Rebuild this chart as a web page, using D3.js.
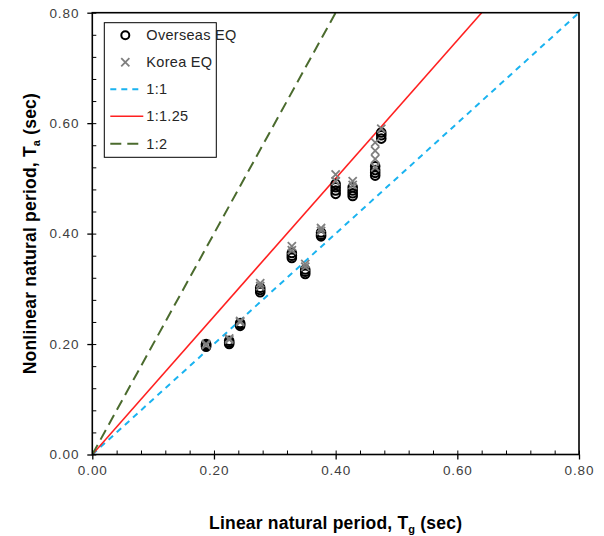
<!DOCTYPE html>
<html>
<head>
<meta charset="utf-8">
<script src="https://cdn.jsdelivr.net/npm/d3@7"></script>
<style>
  body { margin: 0; background: #fff; }
  text { font-family: "Liberation Sans", Arial, sans-serif; }
</style>
</head>
<body>
<div id="chart"></div>
<script>
// Linear period of each record, Tg (sec)
var overseasX = [0.187,0.187,0.187,0.187, 0.225,0.225,0.225, 0.243,0.243,0.243,
  0.276,0.276,0.276, 0.328,0.328,0.328, 0.350,0.350,0.350, 0.376,0.376,0.376,
  0.400,0.400,0.400,0.400, 0.428,0.428,0.428,0.428, 0.465,0.465,0.465,0.465,
  0.475,0.475,0.475]
// Nonlinear period, Ta (sec)
var overseasY = [0.195,0.197,0.199,0.200, 0.200,0.203,0.206, 0.233,0.236,0.238,
  0.294,0.298,0.302, 0.356,0.360,0.365, 0.327,0.331,0.335, 0.395,0.398,0.402,
  0.472,0.478,0.484,0.490, 0.468,0.473,0.478,0.484, 0.505,0.510,0.515,0.522,
  0.572,0.578,0.583]

var koreaX = [0.187,0.187, 0.225,0.225, 0.243,0.243, 0.276,0.276, 0.328,0.328,
  0.350,0.350, 0.376,0.376, 0.400,0.400, 0.428,0.428, 0.465,0.465,0.465,0.465, 0.475]
var koreaY = [0.198,0.200, 0.208,0.210, 0.240,0.242, 0.305,0.310, 0.370,0.377,
  0.340,0.345, 0.405,0.410, 0.495,0.507, 0.488,0.495, 0.520,0.535,0.550,0.565, 0.590]

// reference lines, Ta = ratio * Tg
var refNames = ["1:1", "1:1.25", "1:2"]
var refRatios = [1, 1.25, 2]
var refColors = ["#1ab3f0", "#ff2020", "#4b6b2e"]
var refDash = ["6,5", null, "11,6"]

var ticks = [0, 0.2, 0.4, 0.6, 0.8]
var minorTicks = d3.range(0, 0.8001, 0.04)

var W = 604, H = 536
var margin = {top: 12.7, right: 25, bottom: 81.5, left: 92.3}
var width = W - margin.left - margin.right,
    height = H - margin.top - margin.bottom

var svg = d3.select("#chart").append("svg")
  .attr("width", W)
  .attr("height", H)

var g = svg.append("g")
  .attr("transform", "translate(" + margin.left + "," + margin.top + ")")

var x = d3.scaleLinear().domain([0, 0.8]).range([0, width])
var y = d3.scaleLinear().domain([0, 0.8]).range([height, 0])

var clip = g.append("clipPath").attr("id", "clip")
clip.append("rect").attr("width", width).attr("height", height)

// minor ticks (inside)
g.append("g")
  .attr("transform", "translate(0," + height + ")")
  .call(d3.axisBottom(x).tickValues(minorTicks).tickSize(-4).tickFormat(""))
  .call(function(a) { a.select(".domain").remove() })
g.append("g")
  .call(d3.axisLeft(y).tickValues(minorTicks).tickSize(-4).tickFormat(""))
  .call(function(a) { a.select(".domain").remove() })

// major ticks (outside)
var xAxis = g.append("g")
  .attr("transform", "translate(0," + height + ")")
  .call(d3.axisBottom(x).tickValues(ticks).tickSize(5).tickPadding(6).tickFormat(d3.format(".2f")))
var yAxis = g.append("g")
  .call(d3.axisLeft(y).tickValues(ticks).tickSize(5).tickPadding(8).tickFormat(d3.format(".2f")))

;[xAxis, yAxis].forEach(function(a) {
  a.select(".domain").remove()
  a.selectAll("line").attr("stroke", "#000").attr("stroke-width", 1.3)
  a.selectAll("text").attr("fill", "#404040").style("font-size", "13.5px")
    .style("letter-spacing", "0.9px")
})
g.selectAll("line").attr("stroke", "#000")

// reference lines
var lines = g.append("g").attr("clip-path", "url(#clip)")
refRatios.forEach(function(r, i) {
  lines.append("line")
    .attr("x1", x(0)).attr("y1", y(0))
    .attr("x2", x(0.8 / r)).attr("y2", y(0.8))
    .attr("stroke", refColors[i])
    .attr("stroke-width", i == 1 ? 1.6 : 2)
    .attr("stroke-dasharray", refDash[i])
})

// overseas records: open circles
g.append("g").selectAll("circle")
  .data(overseasX)
  .enter().append("circle")
  .attr("cx", function(d) { return x(d) })
  .attr("cy", function(d, i) { return y(overseasY[i]) })
  .attr("r", 4.3)
  .attr("fill", "none")
  .attr("stroke", "#000")
  .attr("stroke-width", 2)

// korea records: gray crosses
var cross = d3.symbol().type(d3.symbolX).size(45)
g.append("g").selectAll("path")
  .data(koreaX)
  .enter().append("path")
  .attr("d", cross)
  .attr("transform", function(d, i) { return "translate(" + x(d) + "," + y(koreaY[i]) + ")" })
  .attr("fill", "none")
  .attr("stroke", "#7f7f7f")
  .attr("stroke-width", 1.8)

// frame
g.append("rect")
  .attr("width", width).attr("height", height)
  .attr("fill", "none").attr("stroke", "#000").attr("stroke-width", 1.6)

// legend
var leg = svg.append("g").attr("transform", "translate(104.3,22.7)")
leg.append("rect")
  .attr("width", 112).attr("height", 134.6)
  .attr("fill", "#fff").attr("stroke", "#000").attr("stroke-width", 1)
var legNames = ["Overseas EQ", "Korea EQ"].concat(refNames)
var legY = [12.5, 39.5, 66.5, 93.5, 121]
legNames.forEach(function(name, i) {
  var row = leg.append("g").attr("transform", "translate(0," + legY[i] + ")")
  if (i == 0) {
    row.append("circle").attr("cx", 21).attr("r", 4)
      .attr("fill", "none").attr("stroke", "#000").attr("stroke-width", 2)
  } else if (i == 1) {
    row.append("path").attr("d", cross).attr("transform", "translate(21,0)")
      .attr("fill", "none").attr("stroke", "#7f7f7f").attr("stroke-width", 1.8)
  } else {
    var k = i - 2
    row.append("line").attr("x1", 6).attr("x2", 39)
      .attr("stroke", refColors[k])
      .attr("stroke-width", k == 1 ? 1.6 : 2)
      .attr("stroke-dasharray", refDash[k])
  }
  row.append("text").attr("x", 42).attr("y", 5)
    .style("font-size", "14.5px").style("letter-spacing", "0.3px").attr("fill", "#262626")
    .text(name)
})

// axis titles
var xt = svg.append("text")
  .attr("x", margin.left + width / 2).attr("y", 529)
  .attr("text-anchor", "middle")
  .style("font-size", "17.5px").style("font-weight", "bold").style("letter-spacing", "0.2px")
xt.append("tspan").text("Linear natural period, T")
xt.append("tspan").attr("dy", 4).style("font-size", "11px").text("g")
xt.append("tspan").attr("dy", -4).text(" (sec)")

var yt = svg.append("text")
  .attr("transform", "translate(36," + (margin.top + height / 2) + ") rotate(-90)")
  .attr("text-anchor", "middle")
  .style("font-size", "17.5px").style("font-weight", "bold").style("letter-spacing", "0.2px")
yt.append("tspan").text("Nonlinear natural period, T")
yt.append("tspan").attr("dy", 4).style("font-size", "11px").text("a")
yt.append("tspan").attr("dy", -4).text(" (sec)")
</script>
</body>
</html>
